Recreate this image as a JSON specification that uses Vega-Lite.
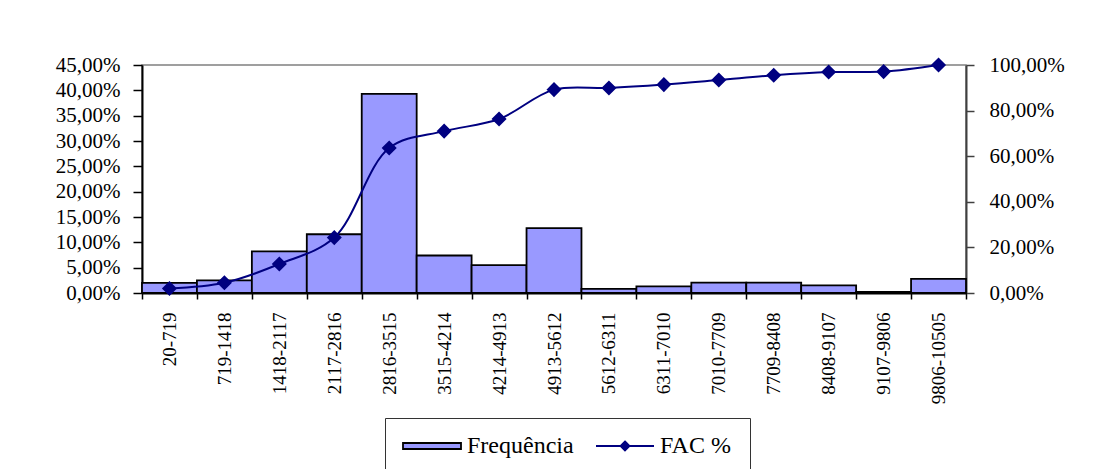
{
  "$schema": "https://vega.github.io/schema/vega-lite/v6.json",
  "width": 824,
  "height": 228,
  "autosize": "none",
  "padding": {"left": 142, "top": 65, "right": 132, "bottom": 176},
  "background": "white",
  "config": {
    "view": {"stroke": "#808080", "strokeWidth": 1.5},
    "font": "Liberation Serif"
  },
  "data": {
    "values": [
      {"classe": "20-719", "freq": 2.0, "fac": 2.0},
      {"classe": "719-1418", "freq": 2.5, "fac": 4.5},
      {"classe": "1418-2117", "freq": 8.2, "fac": 12.7},
      {"classe": "2117-2816", "freq": 11.6, "fac": 24.3},
      {"classe": "2816-3515", "freq": 39.3, "fac": 63.6},
      {"classe": "3515-4214", "freq": 7.4, "fac": 71.0},
      {"classe": "4214-4913", "freq": 5.5, "fac": 76.3},
      {"classe": "4913-5612", "freq": 12.8, "fac": 89.2},
      {"classe": "5612-6311", "freq": 0.8, "fac": 89.9},
      {"classe": "6311-7010", "freq": 1.3, "fac": 91.4},
      {"classe": "7010-7709", "freq": 2.05, "fac": 93.4},
      {"classe": "7709-8408", "freq": 2.05, "fac": 95.5},
      {"classe": "8408-9107", "freq": 1.5, "fac": 96.9},
      {"classe": "9107-9806", "freq": 0.2, "fac": 97.1},
      {"classe": "9806-10505", "freq": 2.8, "fac": 100.0}
    ]
  },
  "layer": [
    {
      "mark": {"type": "bar", "stroke": "black", "strokeWidth": 1.8},
      "encoding": {
        "x": {
          "field": "classe", "type": "nominal", "sort": null,
          "scale": {"paddingInner": 0, "paddingOuter": 0},
          "axis": {
            "title": null, "labelAngle": -90, "tickBand": "extent",
            "tickSize": 6, "tickColor": "black", "tickWidth": 1.5,
            "domainColor": "black", "domainWidth": 2,
            "labelPadding": 13, "labelFont": "Liberation Serif", "labelFontSize": 19,
            "labelColor": "black", "labelOverlap": false
          }
        },
        "y": {
          "field": "freq", "type": "quantitative",
          "scale": {"domain": [0, 45], "nice": false},
          "axis": {
            "title": null, "grid": false,
            "values": [0, 5, 10, 15, 20, 25, 30, 35, 40, 45],
            "labelExpr": "replace(format(datum.value, '.2f'), '.', ',') + '%'",
            "domainColor": "black", "domainWidth": 2,
            "tickColor": "black", "tickWidth": 1.5, "tickSize": 9,
            "labelPadding": 13, "labelFont": "Liberation Serif", "labelFontSize": 21,
            "labelColor": "black", "labelOverlap": false
          }
        },
        "fill": {
          "datum": "Frequência",
          "scale": {"range": ["#9999FF"]},
          "legend": {
            "title": "MMMMMMMM",
            "titleOrient": "right", "titleFontSize": 24, "titlePadding": 0,
            "titleFont": "Liberation Serif", "titleOpacity": 0,
            "orient": "none", "legendX": 243, "legendY": 353,
            "direction": "horizontal", "strokeColor": "#333333", "padding": 16,
            "labelFont": "Liberation Serif", "labelFontSize": 24,
            "labelColor": "black", "symbolSize": 400, "labelOffset": 42,
            "symbolType": "M-1,-0.3H4.8V0.3H-1Z",
            "symbolStrokeColor": "black", "symbolStrokeWidth": 1.8, "symbolOpacity": 1
          }
        }
      }
    },
    {
      "mark": {
        "type": "line", "interpolate": "catmull-rom", "strokeWidth": 2,
        "point": {"shape": "diamond", "size": 150, "filled": true, "fill": "#000080", "opacity": 1}
      },
      "encoding": {
        "x": {"field": "classe", "type": "nominal", "sort": null},
        "y": {
          "field": "fac", "type": "quantitative",
          "scale": {"domain": [0, 100], "nice": false},
          "axis": {
            "title": null, "grid": false, "orient": "right",
            "values": [0, 20, 40, 60, 80, 100],
            "labelExpr": "replace(format(datum.value, '.2f'), '.', ',') + '%'",
            "domainColor": "#404040", "domainWidth": 2,
            "tickColor": "#404040", "tickWidth": 1.5, "tickSize": 8,
            "labelPadding": 15, "labelFont": "Liberation Serif", "labelFontSize": 21,
            "labelColor": "black", "labelOverlap": false
          }
        },
        "stroke": {
          "datum": "FAC %",
          "scale": {"range": ["#000080"]},
          "legend": {
            "title": null, "orient": "none", "legendX": 452, "legendY": 369,
            "direction": "horizontal", "padding": 0,
            "labelFont": "Liberation Serif", "labelFontSize": 24,
            "labelColor": "black", "symbolSize": 400, "labelOffset": 42,
            "symbolType": "M-1,0H4.8M1.9,-0.45L2.35,0L1.9,0.45L1.45,0Z",
            "symbolFillColor": "#000080", "symbolStrokeWidth": 1.8, "symbolOpacity": 1
          }
        }
      }
    }
  ],
  "resolve": {"scale": {"y": "independent"}}
}
